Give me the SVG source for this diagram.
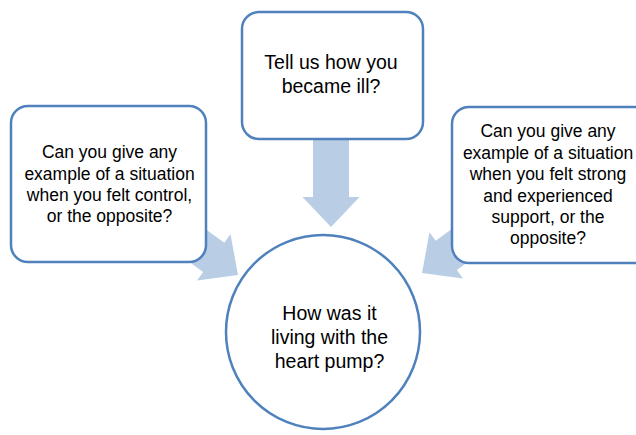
<svg xmlns="http://www.w3.org/2000/svg" width="636" height="435" viewBox="0 0 636 435">
<defs>
<style>
.box{fill:#ffffff;stroke:#4f81bd;stroke-width:2.5}
.arrow{fill:#b9cde5;stroke:none}
.t{font-family:"Liberation Sans",Arial,sans-serif;fill:#000000;text-anchor:middle}
.big{font-size:19.5px}
.small{font-size:17.5px}
</style>
<polygon id="blockArrow" points="-18,-87 18,-87 18,-30 28.5,-30 0,0 -28.5,-30 -18,-30"/>
</defs>
<rect width="636" height="435" fill="#ffffff"/>
<g id="connectors">
<use href="#blockArrow" class="arrow" transform="translate(331,227)"/>
<use href="#blockArrow" class="arrow" transform="translate(238,275) rotate(-54)"/>
<use href="#blockArrow" class="arrow" transform="translate(422,273) rotate(54)"/>
</g>
<g id="node-top">
<rect class="box" x="242" y="12" width="181" height="127" rx="17"/>
<text class="t big" x="331" y="69">Tell us how you</text>
<text class="t big" x="331" y="93">became ill?</text>
</g>
<g id="node-left">
<rect class="box" x="11" y="106" width="195" height="156" rx="17"/>
<text class="t small" x="109.5" y="158">Can you give any</text>
<text class="t small" x="109.5" y="180">example of a situation</text>
<text class="t small" x="109.5" y="201">when you felt control,</text>
<text class="t small" x="109.5" y="222">or the opposite?</text>
</g>
<g id="node-right">
<rect class="box" x="452" y="107" width="200" height="156" rx="17"/>
<text class="t small" x="548" y="137">Can you give any</text>
<text class="t small" x="548" y="159">example of a situation</text>
<text class="t small" x="548" y="180">when you felt strong</text>
<text class="t small" x="548" y="202">and experienced</text>
<text class="t small" x="548" y="223">support, or the</text>
<text class="t small" x="548" y="244">opposite?</text>
</g>
<g id="node-center">
<circle class="box" cx="323" cy="332" r="97"/>
<text class="t big" x="329.5" y="320">How was it</text>
<text class="t big" x="329.5" y="344">living with the</text>
<text class="t big" x="329.5" y="368">heart pump?</text>
</g>
</svg>
